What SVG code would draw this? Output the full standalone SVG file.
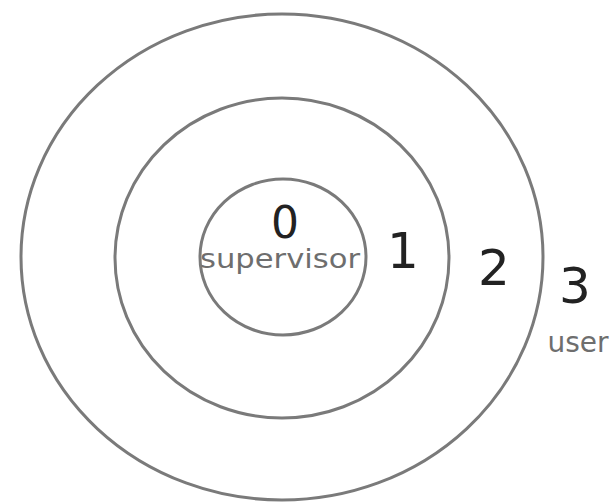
<svg xmlns="http://www.w3.org/2000/svg" width="615" height="502" viewBox="0 0 615 502">
<style>
.ring{fill:none;stroke:#7a7a7a;stroke-width:3}
.num{font-family:"DejaVu Sans",Verdana,sans-serif;fill:#222;text-anchor:middle}
.lbl{font-family:"DejaVu Sans",Verdana,sans-serif;fill:#6e6e6e;text-anchor:middle}
</style>
<rect width="615" height="502" fill="#fff"/>
<g id="ring3">
<ellipse class="ring" cx="282" cy="257" rx="261" ry="243"/>
<text class="num" x="575" y="303" font-size="50">3</text>
<text class="lbl" x="578" y="352" font-size="28">user</text>
</g>
<g id="ring2">
<ellipse class="ring" cx="282" cy="258" rx="167" ry="160"/>
<text class="num" x="494" y="285" font-size="50">2</text>
</g>
<g id="ring1">
<text class="num" x="403" y="268" font-size="50">1</text>
</g>
<g id="ring0">
<ellipse class="ring" cx="283" cy="257" rx="83" ry="78"/>
<text class="num" x="285" y="238" font-size="44">0</text>
<text class="lbl" x="280" y="268" font-size="26" textLength="160" lengthAdjust="spacingAndGlyphs">supervisor</text>
</g>
</svg>
